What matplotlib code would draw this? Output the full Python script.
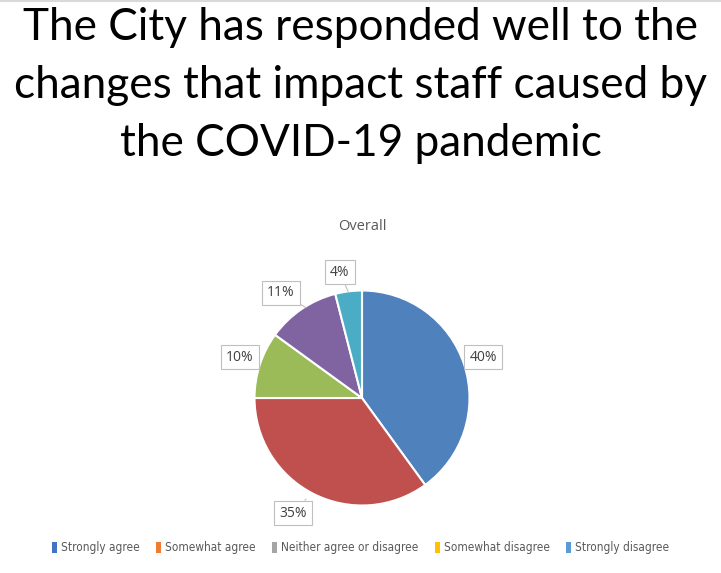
import matplotlib
matplotlib.use("Agg")
import matplotlib.pyplot as plt
from matplotlib.patches import Patch
from matplotlib import font_manager

title_lines = ["The City has responded well to the",
               "changes that impact staff caused by",
               "the COVID-19 pandemic"]
subtitle = "Overall"
categories = ["Strongly agree", "Somewhat agree", "Neither agree or disagree",
              "Somewhat disagree", "Strongly disagree"]
values = [40, 35, 10, 11, 4]
slice_colors = ["#4F81BD", "#C0504D", "#9BBB59", "#8064A2", "#4BACC6"]
legend_colors = ["#4472C4", "#ED7D31", "#A5A5A5", "#FFC000", "#5B9BD5"]

W, H = 721, 573
fig = plt.figure(figsize=(W / 100, H / 100), dpi=100)
fig.patch.set_facecolor("white")

# title
for line, yc in zip(title_lines, [28, 86, 143]):
    fig.text(0.5, 1 - yc / H, line, ha="center", va="center",
             fontsize=31.8, family=["Lato", "DejaVu Sans"], color="black")

fig.text(362 / W, 1 - 226 / H, subtitle, ha="center", va="center",
         fontsize=10.5, family=["Open Sans", "DejaVu Sans"], color="#595959")

# pie axes: 107.5 px per data unit, center at (362, 398)
R = 107.5
cx, cy = 362, 398
xl, xr = -2.0, 2.0
yb, yt = -1.5, 1.5
left = (cx + xl * R) / W
width = (xr - xl) * R / W
bottom = (H - (cy - yb * R)) / H
height = (yt - yb) * R / H
ax = fig.add_axes([left, bottom, width, height])
wedges, _ = ax.pie(values, colors=slice_colors, startangle=90, counterclock=False,
                   wedgeprops=dict(edgecolor="white", linewidth=1.5))
ax.set_xlim(xl, xr)
ax.set_ylim(yb, yt)
ax.set_aspect("equal")
ax.axis("off")

label_pos = [(1.126, 0.381), (-0.642, -1.070), (-1.135, 0.381),
             (-0.753, 0.977), (-0.205, 1.172)]
leader = [None, (-0.52, -0.94), None, (-0.52, 0.84), (-0.13, 0.99)]
lbl_kw = dict(ha="center", va="center", fontsize=10, color="#404040",
              family=["Open Sans", "DejaVu Sans"],
              bbox=dict(boxstyle="square,pad=0.35", fc="white", ec="#BFBFBF", lw=0.8))
for v, pos, ld in zip(values, label_pos, leader):
    if ld is not None:
        ax.annotate(f"{v}%", xy=ld, xytext=pos,
                    arrowprops=dict(arrowstyle="-", color="#BFBFBF", lw=0.8,
                                    shrinkA=0, shrinkB=0), **lbl_kw)
    else:
        ax.text(pos[0], pos[1], f"{v}%", **lbl_kw)

handles = [Patch(facecolor=c, edgecolor="none") for c in legend_colors]
leg_font = font_manager.FontProperties(family=["DejaVu Sans"], stretch="condensed", size=8.5)
leg = fig.legend(handles, categories, loc="center", bbox_to_anchor=(0.5, 1 - 548 / H),
                 ncol=5, frameon=False, handlelength=0.45, handleheight=1.0,
                 handletextpad=0.3, columnspacing=1.4, prop=leg_font)
for t in leg.get_texts():
    t.set_color("#595959")

# thin top border line
fig.add_artist(plt.Line2D([0, 1], [1 - 1 / H, 1 - 1 / H], color="#D9D9D9", lw=1.5,
                          transform=fig.transFigure))

fig.savefig("out.png", dpi=100, facecolor="white")
